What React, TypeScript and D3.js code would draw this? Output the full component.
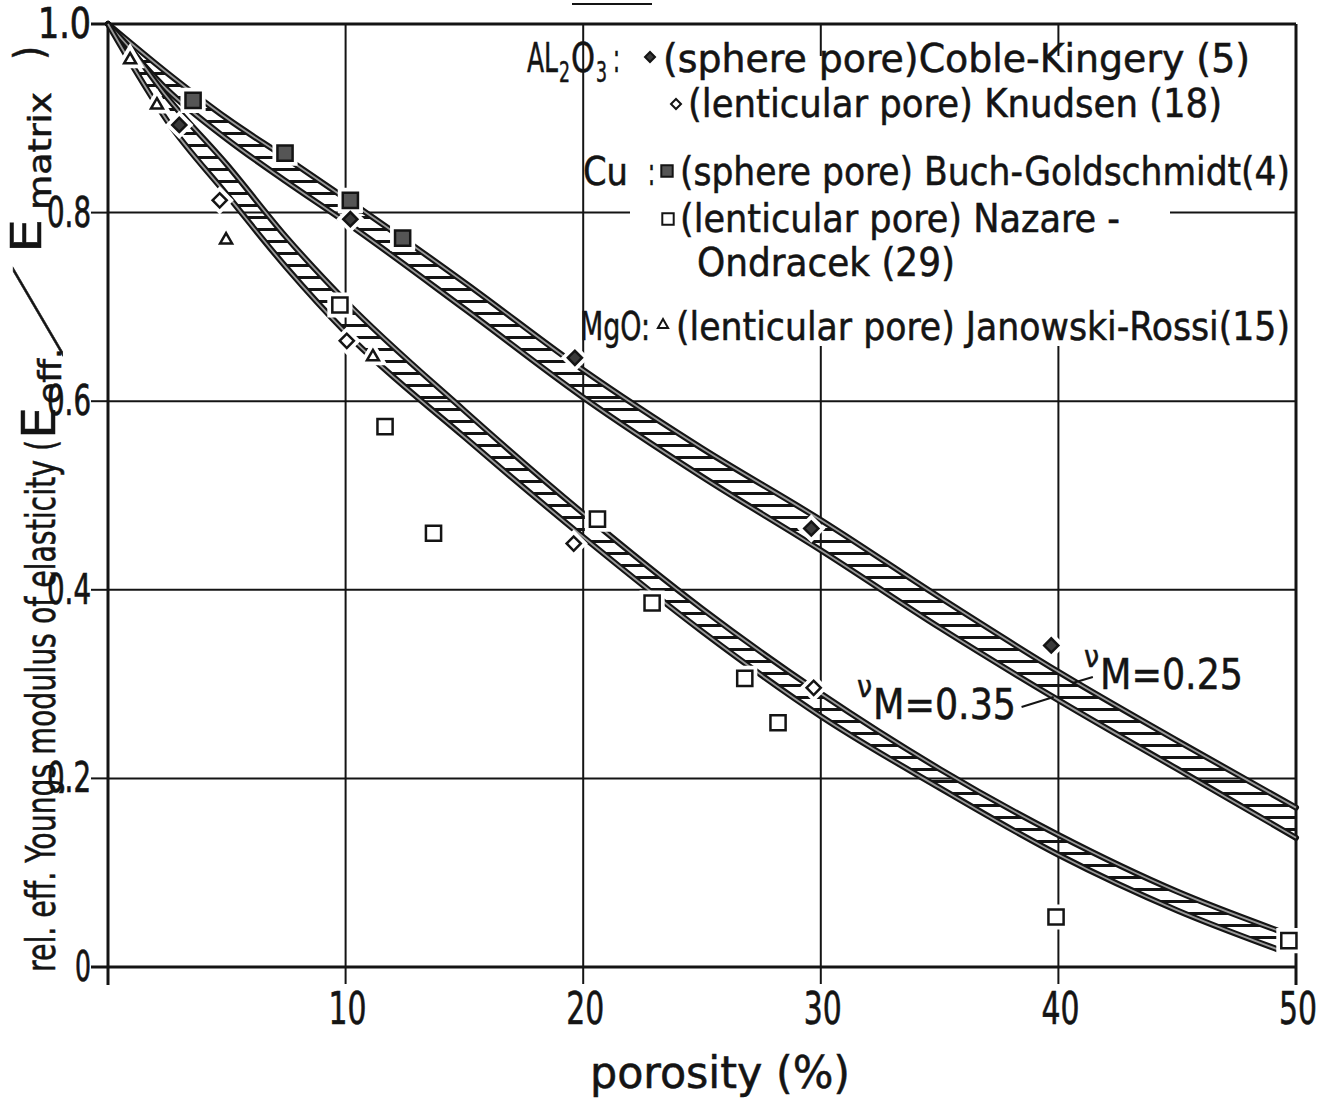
import React, { useEffect, useRef } from "react";
import * as d3 from "d3";

// band x positions (porosity %)
const sphereX = [0, 2.5, 5, 7.5, 10, 15, 20, 25, 30, 35, 40, 45, 50];
// sphere pore band, upper boundary (vM = 0.25) and lower boundary (vM = 0.35)
const sphereUpper = [1.0, 0.948, 0.9, 0.858, 0.815, 0.726, 0.633, 0.55, 0.474, 0.392, 0.313, 0.24, 0.169];
const sphereLower = [1.0, 0.93, 0.878, 0.833, 0.79, 0.698, 0.604, 0.52, 0.442, 0.36, 0.283, 0.21, 0.137];

// lenticular pore band
const lentX = [0, 1, 2.5, 5, 7.5, 10, 15, 20, 25, 30, 35, 40, 45, 49.2];
const lentUpper = [1.0, 0.972, 0.922, 0.851, 0.774, 0.706, 0.59, 0.481, 0.38, 0.29, 0.21, 0.14, 0.08, 0.039];
const lentLower = [1.0, 0.957, 0.897, 0.819, 0.742, 0.673, 0.562, 0.456, 0.356, 0.266, 0.19, 0.119, 0.06, 0.019];

// measured points [porosity, E/E0]
const cobleKingery = [[3.0, 0.893], [10.2, 0.793], [19.65, 0.646], [29.6, 0.465], [39.7, 0.341]];
const knudsen = [[4.7, 0.813], [10.05, 0.664], [19.6, 0.449], [29.7, 0.296]];
const buchGoldschmidt = [[3.58, 0.919], [7.45, 0.863], [10.2, 0.813], [12.4, 0.773]];
const nazareOndracek = [[9.76, 0.702], [11.66, 0.573], [13.7, 0.46], [20.6, 0.475], [22.9, 0.386], [26.8, 0.306], [28.2, 0.259], [39.9, 0.053], [49.7, 0.028]];
const janowskiRossi = [[0.93, 0.962], [2.06, 0.914], [4.97, 0.771], [11.15, 0.647]];

const xTicks = [10, 20, 30, 40, 50];
const yTicks = [0, 0.2, 0.4, 0.6, 0.8, 1.0];
const yTickLabels = ["0", "0.2", "0.4", "0.6", "0.8", "1.0"];

const FONT = "'DejaVu Sans Condensed', 'Liberation Sans Narrow', sans-serif";
const INK = "#141414";

function App() {
  const ref = useRef(null);

  useEffect(() => {
    const svg = d3.select(ref.current);
    svg.selectAll("*").remove();

    const x = d3.scaleLinear().domain([0, 50]).range([108, 1296]);
    const y = d3.scaleLinear().domain([0, 1]).range([967, 24]);

    const defs = svg.append("defs");
    defs
      .append("pattern")
      .attr("id", "hatch")
      .attr("patternUnits", "userSpaceOnUse")
      .attr("width", 8)
      .attr("height", 12)
      .append("rect")
      .attr("x", 0)
      .attr("y", 0)
      .attr("width", 8)
      .attr("height", 3)
      .attr("fill", INK);

    // text helper
    const txt = (parent, tx, ty, s, size, w) => {
      const t = parent
        .append("text")
        .attr("x", tx)
        .attr("y", ty)
        .attr("font-family", FONT)
        .attr("font-size", size)
        .attr("fill", INK)
        .attr("stroke", INK)
        .attr("stroke-width", 0.5)
        .text(s);
      if (w) t.attr("textLength", w).attr("lengthAdjust", "spacingAndGlyphs");
      return t;
    };

    // grid
    const g = svg.append("g");
    g.selectAll(".hg")
      .data([0.2, 0.4, 0.6, 0.8])
      .join("line")
      .attr("x1", x(0))
      .attr("x2", x(50))
      .attr("y1", d => y(d))
      .attr("y2", d => y(d))
      .attr("stroke", INK)
      .attr("stroke-width", 2);
    g.selectAll(".vg")
      .data([10, 20, 30, 40])
      .join("line")
      .attr("x1", d => x(d))
      .attr("x2", d => x(d))
      .attr("y1", y(1))
      .attr("y2", y(0) + 17)
      .attr("stroke", INK)
      .attr("stroke-width", 2);

    // frame
    g.append("line").attr("x1", x(0) - 17).attr("x2", x(50)).attr("y1", y(1)).attr("y2", y(1)).attr("stroke", INK).attr("stroke-width", 3);
    g.append("line").attr("x1", x(0) - 17).attr("x2", x(50)).attr("y1", y(0)).attr("y2", y(0)).attr("stroke", INK).attr("stroke-width", 3);
    g.append("line").attr("x1", x(0)).attr("x2", x(0)).attr("y1", y(1)).attr("y2", y(0) + 18).attr("stroke", INK).attr("stroke-width", 3);
    g.append("line").attr("x1", x(50)).attr("x2", x(50)).attr("y1", y(1)).attr("y2", y(0) + 18).attr("stroke", INK).attr("stroke-width", 3);

    // y tick marks
    g.selectAll(".yt")
      .data(yTicks)
      .join("line")
      .attr("x1", x(0) - 17)
      .attr("x2", x(0))
      .attr("y1", d => y(d))
      .attr("y2", d => y(d))
      .attr("stroke", INK)
      .attr("stroke-width", 2);

    // scan stub at top
    g.append("line").attr("x1", 572).attr("x2", 652).attr("y1", 4).attr("y2", 4).attr("stroke", INK).attr("stroke-width", 2);

    // tick labels
    xTicks.forEach(d => {
      txt(g, x(d) + 2, y(0) + 57, String(d), 45, 38).attr("text-anchor", "middle").attr("stroke-width", 0.6);
    });
    yTicks.forEach((d, i) => {
      const s = yTickLabels[i];
      const w = s === "1.0" ? 53 : s.length > 1 ? 44 : 16;
      txt(g, 91, y(d) + 14, s, 42, w).attr("text-anchor", "end").attr("stroke-width", 0.7);
    });

    // axis titles
    txt(g, 590, 1088, "porosity (%)", 44, 260);

    const yt = g.append("g").attr("transform", "translate(55,972) rotate(-90)");
    txt(yt, 0, 0, "rel. eff. Youngs modulus of elasticity (", 41, 532);
    txt(yt, 533, 0, "E", 46, 32);
    txt(yt, 568, 6, "eff.", 32, 56);
    txt(yt, 0, 0, "/", 60).attr("transform", "translate(624,2) skewX(-55)").attr("stroke-width", 0.8);
    txt(yt, 719, -14, "E", 42, 34);
    txt(yt, 762, -4, "matrix", 32, 118);
    txt(yt, 912, -12, ")", 40);

    // legend
    const lg = svg.append("g");
    lg.append("rect").attr("x", 630).attr("y", 56).attr("width", 540).attr("height", 290).attr("fill", "white");
    const al = lg
      .append("text")
      .attr("x", 527)
      .attr("y", 72)
      .attr("font-family", FONT)
      .attr("font-size", 40)
      .attr("fill", INK)
      .attr("stroke", INK)
      .attr("stroke-width", 0.5);
    al.append("tspan").attr("textLength", 31).attr("lengthAdjust", "spacingAndGlyphs").text("AL");
    al.append("tspan").attr("font-size", 28).attr("dy", 10).attr("dx", 1).attr("textLength", 11).attr("lengthAdjust", "spacingAndGlyphs").text("2");
    al.append("tspan").attr("dy", -10).attr("dx", 1).attr("textLength", 24).attr("lengthAdjust", "spacingAndGlyphs").text("O");
    al.append("tspan").attr("font-size", 28).attr("dy", 10).attr("dx", 1).attr("textLength", 11).attr("lengthAdjust", "spacingAndGlyphs").text("3");
    al.append("tspan").attr("dy", -10).attr("dx", 6).attr("textLength", 7).attr("lengthAdjust", "spacingAndGlyphs").text(":");
    txt(lg, 663, 72, "(sphere pore)Coble-Kingery  (5)", 39, 587);
    txt(lg, 688, 117, "(lenticular pore)  Knudsen   (18)", 39, 534);
    txt(lg, 583, 185, "Cu", 39, 45);
    txt(lg, 648, 185, ":", 39, 7);
    txt(lg, 680, 185, "(sphere pore)  Buch-Goldschmidt(4)", 39, 610);
    txt(lg, 680, 232, "(lenticular pore)  Nazare -", 39, 440);
    txt(lg, 697, 276, "Ondracek  (29)", 39, 258);
    txt(lg, 580, 340, "MgO:", 39, 70);
    txt(lg, 676, 340, "(lenticular pore) Janowski-Rossi(15)", 39, 614);

    // bands
    const bands = [
      { xs: sphereX, up: sphereUpper, lo: sphereLower },
      { xs: lentX, up: lentUpper, lo: lentLower }
    ];
    const bg = svg.append("g");
    bands.forEach(b => {
      const pts = b.xs.map((d, i) => ({ p: d, u: b.up[i], l: b.lo[i] }));
      const area = d3
        .area()
        .x(d => x(d.p))
        .y0(d => y(d.l))
        .y1(d => y(d.u))
        .curve(d3.curveMonotoneX);
      bg.append("path").attr("d", area(pts)).attr("fill", "url(#hatch)");
      ["u", "l"].forEach(k => {
        const line = d3
          .line()
          .x(d => x(d.p))
          .y(d => y(d[k]))
          .curve(d3.curveMonotoneX);
        bg.append("path").attr("d", line(pts)).attr("fill", "none").attr("stroke", INK).attr("stroke-width", 6).attr("stroke-linecap", "round");
        bg.append("path").attr("d", line(pts)).attr("fill", "none").attr("stroke", "#9a9a9a").attr("stroke-width", 1.8);
      });
    });

    // markers
    const sym = {
      diamond: d3.symbol().type(d3.symbolSquare).size(100),
      square: d3.symbol().type(d3.symbolSquare).size(230),
      tri: d3.symbol().type(d3.symbolTriangle).size(62)
    };
    const series = [
      { data: cobleKingery, shape: "diamond", fill: "#3a3a3a", rot: 45 },
      { data: knudsen, shape: "diamond", fill: "white", rot: 45 },
      { data: buchGoldschmidt, shape: "square", fill: "#555", rot: 0 },
      { data: nazareOndracek, shape: "square", fill: "white", rot: 0 },
      { data: janowskiRossi, shape: "tri", fill: "white", rot: 0 }
    ];
    const mg = svg.append("g");
    series.forEach(s => {
      const tr = d => "translate(" + x(d[0]) + "," + y(d[1]) + ") rotate(" + s.rot + ")";
      mg.append("g")
        .selectAll("path")
        .data(s.data)
        .join("path")
        .attr("d", sym[s.shape]())
        .attr("transform", tr)
        .attr("fill", "white")
        .attr("stroke", "white")
        .attr("stroke-width", 10);
    });
    series.forEach(s => {
      const tr = d => "translate(" + x(d[0]) + "," + y(d[1]) + ") rotate(" + s.rot + ")";
      mg.append("g")
        .selectAll("path")
        .data(s.data)
        .join("path")
        .attr("d", sym[s.shape]())
        .attr("transform", tr)
        .attr("fill", s.fill)
        .attr("stroke", INK)
        .attr("stroke-width", 2.5);
    });

    // legend symbols
    const legendSym = [
      { px: 650, py: 57, shape: d3.symbol().type(d3.symbolSquare).size(50), fill: "#3a3a3a", rot: 45 },
      { px: 676, py: 104, shape: d3.symbol().type(d3.symbolSquare).size(50), fill: "white", rot: 45 },
      { px: 667, py: 171, shape: d3.symbol().type(d3.symbolSquare).size(130), fill: "#555", rot: 0 },
      { px: 668, py: 219, shape: d3.symbol().type(d3.symbolSquare).size(130), fill: "white", rot: 0 },
      { px: 663, py: 325, shape: d3.symbol().type(d3.symbolTriangle).size(45), fill: "white", rot: 0 }
    ];
    legendSym.forEach(s => {
      lg.append("path")
        .attr("d", s.shape())
        .attr("transform", "translate(" + s.px + "," + s.py + ") rotate(" + s.rot + ")")
        .attr("fill", s.fill)
        .attr("stroke", INK)
        .attr("stroke-width", 2);
    });

    // nu labels
    const nu = (tx, ty, val) => {
      txt(svg, tx, ty - 22, "ν", 30);
      txt(svg, tx + 16, ty, "M=" + val, 42, 143);
    };
    nu(1084, 689, "0.25");
    nu(857, 719, "0.35");
    svg.append("line").attr("x1", x(41.45)).attr("y1", 677).attr("x2", x(40.6)).attr("y2", 683).attr("stroke", INK).attr("stroke-width", 2);
    svg.append("line").attr("x1", x(38.45)).attr("y1", 707).attr("x2", x(39.8)).attr("y2", 697).attr("stroke", INK).attr("stroke-width", 2);
  });

  return (
    <div>
      <svg ref={ref} width={1336} height={1100} style={{ position: "absolute", left: 0, top: 0, background: "white" }} />
    </div>
  );
}

export default App;
